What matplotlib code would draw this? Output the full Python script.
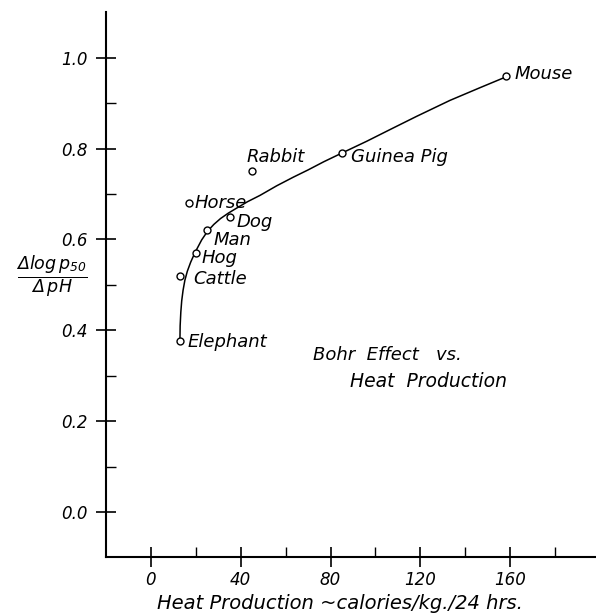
import numpy as np
import matplotlib
matplotlib.use("Agg")
import matplotlib.pyplot as plt

# data
animals = ["Mouse", "Guinea Pig", "Rabbit", "Horse", "Dog", "Man", "Hog", "Cattle", "Elephant"]
heat = [158, 85, 45, 17, 35, 25, 20, 13, 13]
bohr = [0.96, 0.79, 0.75, 0.68, 0.65, 0.62, 0.57, 0.52, 0.377]

# hand-drawn curve, points
curve_x = [12.9, 13.0, 13.3, 13.7, 14.3, 15.1, 16.2, 17.7, 19.6, 22.6, 25.2, 28.0, 31.0,
           34.5, 38.2, 43.0, 48.6, 56.0, 63.4, 70.0, 77.0, 85.0, 96.1, 107.0, 118.4,
           133.2, 146.6, 157.8]
curve_y = [0.377, 0.41, 0.44, 0.465, 0.488, 0.51, 0.53, 0.55, 0.571, 0.599, 0.618, 0.633,
           0.646, 0.658, 0.669, 0.683, 0.697, 0.718, 0.737, 0.753, 0.771, 0.79, 0.816,
           0.843, 0.871, 0.906, 0.934, 0.957]

# label offsets in pixels (dx, dy)
offsets = {"Mouse": (9, 2), "Guinea Pig": (9, -4), "Rabbit": (-5, 14), "Horse": (5, 0),
           "Dog": (7, -5), "Man": (6, -10), "Hog": (6, -5), "Cattle": (13, -3),
           "Elephant": (7, -1)}

plt.rcParams["font.family"] = "DejaVu Sans"
plt.rcParams["font.style"] = "oblique"
plt.rcParams["mathtext.fontset"] = "dejavusans"

fig = plt.figure(figsize=(5.96, 6.16), dpi=100)
ax = fig.add_axes([0.178, 0.0958, 0.822, 0.885])

ax.plot(curve_x, curve_y, color="black", lw=1.1, zorder=2)
ax.plot(heat, bohr, "o", mfc="white", mec="black", ms=5, mew=1.0, zorder=3, ls="none")

for name, hx, by in zip(animals, heat, bohr):
    dx, dy = offsets[name]
    ax.annotate(name, (hx, by), xytext=(dx, dy), textcoords="offset pixels",
                ha="left", va="center", fontsize=13, style="oblique")

ax.text(72, 0.346, "Bohr  Effect   vs.", fontsize=13, style="oblique", va="center")
ax.text(88.7, 0.287, "Heat  Production", fontsize=13.5, style="oblique", va="center")

ax.set_xlim(-20, 198.3)
ax.set_ylim(-0.099, 1.101)
ax.spines["top"].set_visible(False)
ax.spines["right"].set_visible(False)
ax.spines["left"].set_linewidth(1.5)
ax.spines["bottom"].set_linewidth(1.5)

ax.set_xticks([0, 40, 80, 120, 160])
ax.set_xticks([20, 60, 100, 140, 180], minor=True)
ax.set_yticks([0.0, 0.2, 0.4, 0.6, 0.8, 1.0])
ax.set_yticklabels(["0.0", "0.2", "0.4", "0.6", "0.8", "1.0"])
ax.set_yticks([0.1, 0.3, 0.5, 0.7, 0.9], minor=True)
ax.tick_params(which="major", direction="inout", length=14, width=1.2, labelsize=12)
ax.tick_params(which="minor", direction="in", length=7, width=1.0)
ax.tick_params(axis="y", which="major", pad=6)
ax.tick_params(axis="x", which="major", pad=3)
for lbl in ax.get_xticklabels() + ax.get_yticklabels():
    lbl.set_style("oblique")

fig.text(0.570, 0.021, "Heat Production ~calories/kg./24 hrs.", fontsize=14,
         style="oblique", ha="center", va="center")

fig.text(0.087, 0.55, r"$\frac{\Delta log\, p_{50}}{\Delta\, pH}$", fontsize=18,
         ha="center", va="center")

fig.savefig("out.png", dpi=100)
